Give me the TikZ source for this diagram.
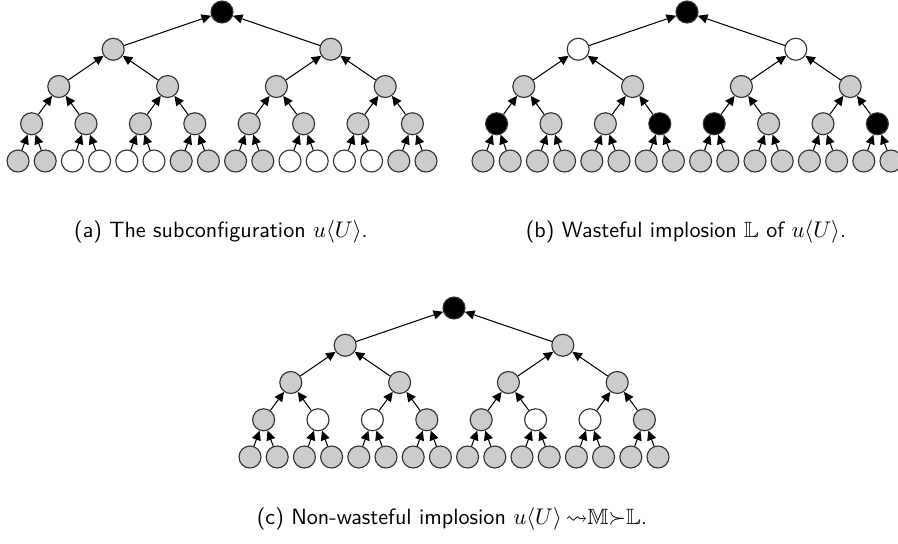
\documentclass[tikz,border=0pt]{standalone}
\usepackage{amsmath,amssymb}
\usetikzlibrary{arrows.meta}
\begin{document}
\begin{tikzpicture}[x=0.017cm, y=-0.017cm, font=\sffamily,
	vtx/.style={circle, draw=black!80, minimum size=0.374cm, inner sep=0pt, line width=0.55pt},
	gry/.style={vtx, fill=black!20}, wht/.style={vtx, fill=white}, blk/.style={vtx, fill=black},
	link/.style={-{Triangle[length=4.6pt, width=4.4pt]}, line width=0.5pt},
	caption/.style={inner sep=0pt, font=\fontsize{10.7}{13}\selectfont\sffamily}]
	\useasboundingbox (0, 0) rectangle (898, 543);
	
	% (a) u<U>
	\node[blk] (a-0-1) at (222, 12) {};
	\foreach \f [count=\i] in {gry,gry} \node[\f] (a-1-\i) at ({222+(\i-1.5)*217.6}, 49.25) {};
	\foreach \f [count=\i] in {gry,gry,gry,gry} \node[\f] (a-2-\i) at ({222+(\i-2.5)*108.8}, 86.5) {};
	\foreach \f [count=\i] in {gry,gry,gry,gry,gry,gry,gry,gry} \node[\f] (a-3-\i) at ({222+(\i-4.5)*54.4}, 123.75) {};
	\foreach \f [count=\i] in {gry,gry,wht,wht,wht,wht,gry,gry,gry,gry,wht,wht,wht,wht,gry,gry} \node[\f] (a-4-\i) at ({222+(\i-8.5)*27.2}, 161) {};
	
	% (b) wasteful implosion
	\node[blk] (b-0-1) at (687, 12) {};
	\foreach \f [count=\i] in {wht,wht} \node[\f] (b-1-\i) at ({687+(\i-1.5)*217.6}, 49.25) {};
	\foreach \f [count=\i] in {gry,gry,gry,gry} \node[\f] (b-2-\i) at ({687+(\i-2.5)*108.8}, 86.5) {};
	\foreach \f [count=\i] in {blk,gry,gry,blk,blk,gry,gry,blk} \node[\f] (b-3-\i) at ({687+(\i-4.5)*54.4}, 123.75) {};
	\foreach \f [count=\i] in {gry,gry,gry,gry,gry,gry,gry,gry,gry,gry,gry,gry,gry,gry,gry,gry} \node[\f] (b-4-\i) at ({687+(\i-8.5)*27.2}, 161) {};
	
	% (c) non-wasteful implosion
	\node[blk] (c-0-1) at (454, 308) {};
	\foreach \f [count=\i] in {gry,gry} \node[\f] (c-1-\i) at ({454+(\i-1.5)*217.6}, 345.25) {};
	\foreach \f [count=\i] in {gry,gry,gry,gry} \node[\f] (c-2-\i) at ({454+(\i-2.5)*108.8}, 382.5) {};
	\foreach \f [count=\i] in {gry,wht,wht,gry,gry,wht,wht,gry} \node[\f] (c-3-\i) at ({454+(\i-4.5)*54.4}, 419.75) {};
	\foreach \f [count=\i] in {gry,gry,gry,gry,gry,gry,gry,gry,gry,gry,gry,gry,gry,gry,gry,gry} \node[\f] (c-4-\i) at ({454+(\i-8.5)*27.2}, 457) {};
	
	% edges, child -> parent
	\foreach \t in {a,b,c}
		\foreach \k in {1,2,3,4} {
			\pgfmathtruncatemacro{\up}{\k-1}
			\pgfmathtruncatemacro{\nn}{2^\k}
			\foreach \i in {1,...,\nn} {
				\pgfmathtruncatemacro{\pa}{(\i+1)/2}
				\draw[link] (\t-\k-\i) -- (\t-\up-\pa);
			}
		}
	
	\node[caption] (cap-a) at (221, 232) {(a) The subconfiguration $u\langle U\rangle$.};
	\node[caption] (cap-b) at (686, 232) {(b) Wasteful implosion $\mathbb{L}$ of $u\langle U\rangle$.};
	\node[caption] (cap-c) at (452, 519) {(c) Non-wasteful implosion $u\langle U\rangle\,{\leadsto}\mathbb{M}{\succ}\mathbb{L}$.};
\end{tikzpicture}
\end{document}
